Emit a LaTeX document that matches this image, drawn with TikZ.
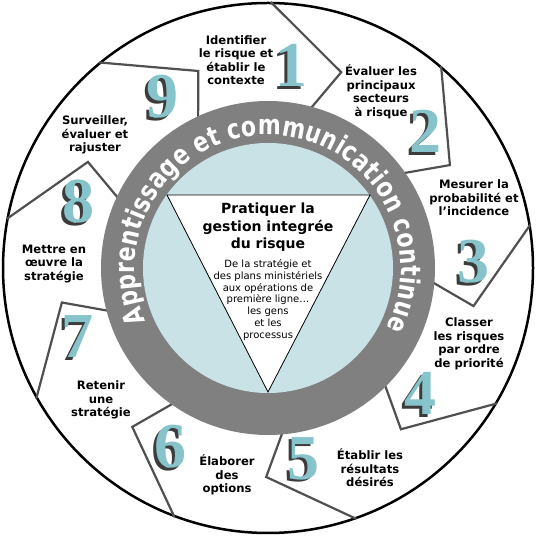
\documentclass[tikz,border=0pt]{standalone}
\usepackage{fontspec}
\setmainfont{DejaVu Sans}
\newfontfamily\numfont{Liberation Serif}
\newfontfamily\ringfam{DejaVu Sans}[FakeStretch=0.8]
\usetikzlibrary{decorations.text}
\definecolor{ringgray}{RGB}{128,128,128}
\definecolor{innerblue}{RGB}{200,226,230}
\definecolor{numteal}{RGB}{134,195,203}
\definecolor{shadowgray}{RGB}{60,60,60}
\definecolor{linegray}{RGB}{80,80,80}
\newcommand{\ringfont}{\ringfam\fontsize{27.5}{27.5}\selectfont\bfseries}
\newcommand{\shadowdigit}[1]{\makebox[0pt][l]{\hspace*{-2.5pt}\raisebox{-2.5pt}{\textcolor{shadowgray}{#1}}}\textcolor{numteal}{#1}}
\begin{document}
\begin{tikzpicture}[x=1pt,y=1pt,
  steplabel/.style={font=\bfseries\fontsize{11.6}{13.5}\selectfont, align=center, text=black, inner sep=0pt},
  bignum/.style={font=\numfont\bfseries\fontsize{64}{64}\selectfont, inner sep=0pt},
  boundary/.style={draw=linegray, line width=2.2pt, line join=miter},
]
\useasboundingbox (0,0) rectangle (537,538);
\coordinate (O) at (268,270);
% outer disc
\draw[line width=2.5pt, fill=white] (O) circle[radius=265];
% section boundaries (chevrons)
\foreach \k in {0,...,8}{
  \pgfmathsetmacro{\c}{109.5-40*\k}
  \draw[boundary, shift={(O)}] ({\c+19.9}:266) -- (\c:209) -- ({\c+6.4}:160);
}
% ring and inner disc
\fill[ringgray] (O) circle[radius=167];
\fill[innerblue] (O) circle[radius=125];
% triangle
\draw[fill=white, line width=0.8pt, line join=miter] (167,343) -- (370,343) -- (268,146) -- cycle;
% curved text
\path[shift={(O)}, decorate, decoration={text along path, text={|\ringfont|Apprentissage et communication continue}, text color=white, text align=fit to path}] (203.5:133) arc[start angle=203.5, end angle=-27, radius=133];
% centre texts
\node[font=\bfseries\fontsize{14}{17.5}\selectfont, align=center, inner sep=0pt] (title) at (268,310.5) {Pratiquer la\\gestion integrée\\du risque};
\node[font=\fontsize{10}{11.8}\selectfont, align=center, inner sep=0pt] (sub) at (268,238) {De la stratégie et\\des plans ministériels\\aux opérations de\\première ligne…\\les gens\\et les\\processus};
% step labels
\node[steplabel] (l1) at (236,478) {Identifier\\le risque et\\établir le\\contexte};
\node[steplabel] (l2) at (381,446) {Évaluer les\\principaux\\secteurs\\à risque};
\node[steplabel] (l3) at (474,340) {Mesurer la\\probabilité et\\l’incidence};
\node[steplabel] (l4) at (469,194) {Classer\\les risques\\par ordre\\de priorité};
\node[steplabel] (l5) at (370,70) {Établir les\\résultats\\désirés};
\node[steplabel] (l6) at (227,63) {Élaborer\\des\\options};
\node[steplabel] (l7) at (101,138) {Retenir\\une\\stratégie};
\node[steplabel] (l8) at (54,274) {Mettre en\\œuvre la\\stratégie};
\node[steplabel] (l9) at (95,403) {Surveiller,\\évaluer et\\rajuster};
% numbers
\foreach \n/\x/\y in {1/291/471, 2/425/405, 3/473/275, 4/420/143, 5/303/78, 6/170/90, 7/77/200, 8/78/335, 9/162/440}{
  \node[bignum] (n\n) at (\x,\y) {\shadowdigit{\n}};
}
\end{tikzpicture}
\end{document}
